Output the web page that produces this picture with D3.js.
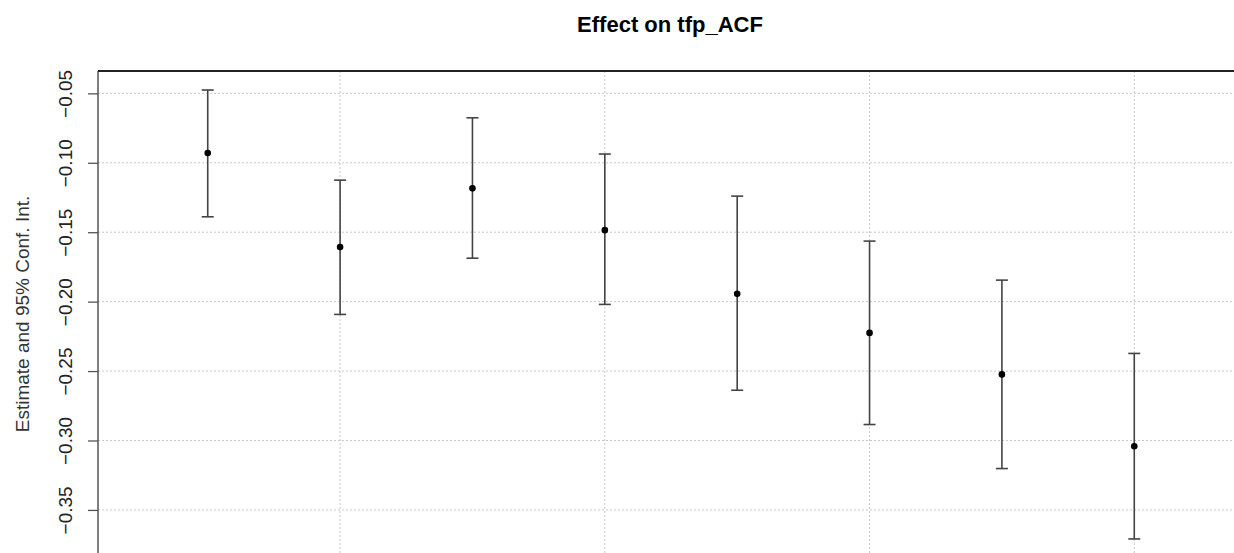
<!DOCTYPE html>
<html>
<head>
<meta charset="utf-8">
<script src="https://cdn.jsdelivr.net/npm/d3@7"></script>
<style>
  html, body { margin: 0; padding: 0; background: #fff; }
  svg { display: block; font-family: "Liberation Sans", Arial, sans-serif; }
</style>
</head>
<body>
<svg id="chart" width="1234" height="553"></svg>
<script>
// ---- data ----
const periods   = [1, 2, 3, 4, 5, 6, 7, 8];
const estimates = [-0.0930, -0.1607, -0.1184, -0.1485, -0.1944, -0.2225, -0.2524, -0.3041];
const ciUpper   = [-0.0476, -0.1125, -0.0676, -0.0937, -0.1240, -0.1564, -0.1845, -0.2373];
const ciLower   = [-0.1389, -0.2092, -0.1687, -0.2020, -0.2638, -0.2885, -0.3202, -0.3709];
const yTicks    = [-0.05, -0.10, -0.15, -0.20, -0.25, -0.30, -0.35];
const xGrid     = [2, 4, 6, 8];
const titleText = "Effect on tfp_ACF";
const yTitle    = "Estimate and 95% Conf. Int.";

// ---- layout ----
const svg = d3.select("#chart");
const pL = 98, pT = 71, pR = 1244, pB = 557;

const x = d3.scaleLinear().domain([0.171, 8.829]).range([pL, pR]);
const y = d3.scaleLinear().domain([-0.0339, -0.3839]).range([pT, pB]);

// gridlines
const grid = svg.append("g");
grid.selectAll("line.h").data(yTicks).enter().append("line")
  .attr("x1", pL).attr("x2", pR)
  .attr("y1", d => y(d)).attr("y2", d => y(d))
  .attr("stroke", "#c8c8c8").attr("stroke-width", 1).attr("stroke-dasharray", "2,2");
grid.selectAll("line.v").data(xGrid).enter().append("line")
  .attr("y1", pT).attr("y2", pB)
  .attr("x1", d => x(d)).attr("x2", d => x(d))
  .attr("stroke", "#c8c8c8").attr("stroke-width", 1).attr("stroke-dasharray", "2,2");

// y axis
const yAxis = d3.axisLeft(y).tickValues(yTicks).tickSize(10).tickFormat(d3.format(".2f"));
const ga = svg.append("g").attr("transform", `translate(${pL},0)`).call(yAxis);
ga.select(".domain").remove();
ga.selectAll(".tick line").attr("stroke", "#555").attr("stroke-width", 1.3);
ga.selectAll(".tick text")
  .attr("x", 0).attr("y", 0).attr("dy", null)
  .attr("transform", "translate(-26,0) rotate(-90)")
  .attr("text-anchor", "middle")
  .style("font-size", "19px")
  .style("font-family", '"Liberation Sans", Arial, sans-serif')
  .attr("fill", "#222");

// axis line (left) and frame top
svg.append("line").attr("x1", pL).attr("x2", pL).attr("y1", pT).attr("y2", pB)
  .attr("stroke", "#555").attr("stroke-width", 1.5);
svg.append("line").attr("x1", pL).attr("x2", pR).attr("y1", pT).attr("y2", pT)
  .attr("stroke", "#222").attr("stroke-width", 1.8);

// error bars
const eb = svg.append("g");
const capW = 6;
periods.forEach((p, i) => {
  const cx = x(p);
  eb.append("line").attr("x1", cx).attr("x2", cx)
    .attr("y1", y(ciUpper[i])).attr("y2", y(ciLower[i]))
    .attr("stroke", "#444").attr("stroke-width", 1.6);
  eb.append("line").attr("x1", cx - capW).attr("x2", cx + capW)
    .attr("y1", y(ciUpper[i])).attr("y2", y(ciUpper[i]))
    .attr("stroke", "#444").attr("stroke-width", 1.6);
  eb.append("line").attr("x1", cx - capW).attr("x2", cx + capW)
    .attr("y1", y(ciLower[i])).attr("y2", y(ciLower[i]))
    .attr("stroke", "#444").attr("stroke-width", 1.6);
});
svg.append("g").selectAll("circle").data(periods).enter().append("circle")
  .attr("cx", d => x(d)).attr("cy", (d, i) => y(estimates[i]))
  .attr("r", 3.3).attr("fill", "#000");

// titles
svg.append("text").attr("x", 670).attr("y", 32)
  .attr("text-anchor", "middle").style("font-size", "22px").style("font-weight", "bold")
  .attr("fill", "#000").text(titleText);
svg.append("text")
  .attr("transform", `translate(29,${(pT + pB) / 2}) rotate(-90)`)
  .attr("text-anchor", "middle").style("font-size", "19px")
  .attr("fill", "#333").text(yTitle);
</script>
</body>
</html>
